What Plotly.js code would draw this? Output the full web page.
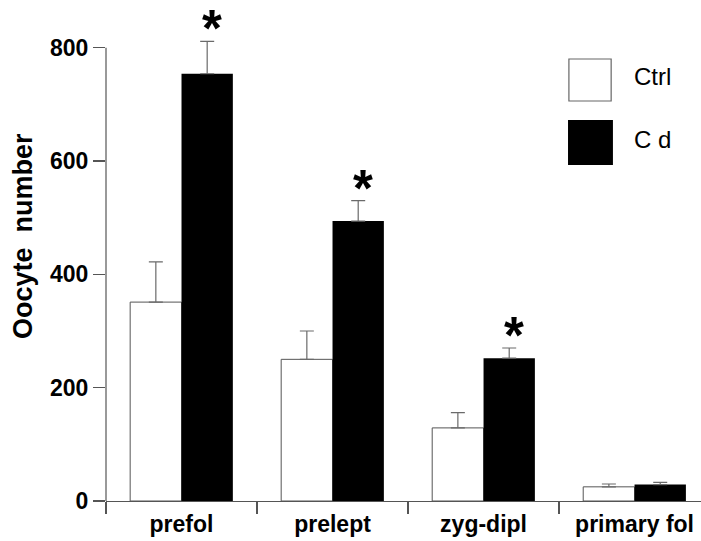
<!DOCTYPE html>
<html>
<head>
<meta charset="utf-8">
<script src="https://cdn.plot.ly/plotly-3.0.1.min.js"></script>
<style>html,body{margin:0;padding:0;background:#fff;}#chart{width:701px;height:541px;}</style>
</head>
<body>
<div id="chart"></div>
<script>
var categories = ["prefol", "prelept", "zyg-dipl", "primary fol"];
var seriesNames = ["Ctrl", "C d"];
var ctrlValues = [351, 250, 129, 25];
var ctrlErrors = [71, 50, 27, 5];
var cdValues = [754, 494, 252, 29];
var cdErrors = [57, 36, 18, 4];
var significant = [true, true, true, false];
var yTickValues = [0, 200, 400, 600, 800];
var yTickLabels = ["0", "200", "400", "600", "800"];
var yAxisTitle = "Oocyte\u00A0\u00A0number";

var FONT = "Liberation Sans, Arial, Helvetica, sans-serif";
var zeros = ctrlValues.map(function(){ return 0; });
var bargap = 0.32;
var halfBar = (1 - bargap) / 4;
var yTop = yTickValues[yTickValues.length - 1];

var traces = [
  {
    type: "bar", name: seriesNames[0], x: categories, y: ctrlValues,
    marker: {color: "#ffffff", line: {color: "#555555", width: 1}},
    error_y: {type: "data", symmetric: false, array: ctrlErrors, arrayminus: zeros,
              width: 7, thickness: 1.2, color: "#6a6a6a"},
    cliponaxis: false, hoverinfo: "none"
  },
  {
    type: "bar", name: seriesNames[1], x: categories, y: cdValues,
    marker: {color: "#000000", line: {color: "#000000", width: 0}},
    error_y: {type: "data", symmetric: false, array: cdErrors, arrayminus: zeros,
              width: 7, thickness: 1.2, color: "#6a6a6a"},
    cliponaxis: false, hoverinfo: "none"
  }
];

var annotations = [];
categories.forEach(function(c, i){
  if (significant[i]) {
    annotations.push({
      xref: "x", yref: "y", x: i + halfBar, y: cdValues[i] + cdErrors[i],
      text: "<b>*</b>", showarrow: false, xanchor: "center", yanchor: "middle",
      height: 40, valign: "middle",
      xshift: 5, yshift: 13,
      font: {family: FONT, size: 51, color: "#000"}
    });
  }
});

// y-axis title as a rotated annotation
annotations.push({xref: "paper", yref: "paper", x: -0.1395, y: 0.5375, text: "<b>" + yAxisTitle + "</b>",
  textangle: -90, showarrow: false, xanchor: "center", yanchor: "middle",
  font: {family: FONT, size: 27, color: "#000"}});

// manual legend with large swatches
var shapes = [
  {type: "line", xref: "paper", yref: "y", x0: 0, x1: 0, y0: 0, y1: yTop,
   line: {color: "#555555", width: 1.2}},
  {type: "rect", xref: "paper", yref: "paper", x0: 0.778, x1: 0.849, y0: 0.8966, y1: 0.8114,
   line: {color: "#666666", width: 1.2}, fillcolor: "#ffffff"},
  {type: "rect", xref: "paper", yref: "paper", x0: 0.7765, x1: 0.852, y0: 0.7728, y1: 0.6815,
   line: {color: "#000000", width: 0}, fillcolor: "#000000"}
];
annotations.push({xref: "paper", yref: "paper", x: 0.884, y: 0.862, text: seriesNames[0],
  showarrow: false, xanchor: "left", yanchor: "middle", font: {family: FONT, size: 24, color: "#000"}});
annotations.push({xref: "paper", yref: "paper", x: 0.884, y: 0.7323, text: seriesNames[1],
  showarrow: false, xanchor: "left", yanchor: "middle", font: {family: FONT, size: 24, color: "#000"}});

var layout = {
  width: 701, height: 541,
  margin: {l: 106, r: 0, t: 8, b: 40},
  paper_bgcolor: "#ffffff", plot_bgcolor: "#ffffff",
  showlegend: false,
  barmode: "group", bargap: bargap, bargroupgap: 0,
  font: {family: FONT, color: "#000"},
  xaxis: {
    type: "category", range: [-0.5, 3.44],
    showline: true, linecolor: "#555555", linewidth: 1.2,
    ticks: "outside", tickson: "boundaries", ticklen: 12, tickwidth: 1.2, tickcolor: "#555555",
    ticklabelstandoff: 2,
    showgrid: false, zeroline: false,
    tickfont: {family: FONT, size: 23, color: "#000", weight: "bold"}
  },
  yaxis: {
    range: [0, 870],
    tickvals: yTickValues, ticktext: yTickLabels,
    showline: false,
    ticks: "outside", ticklen: 12, tickwidth: 1.2, tickcolor: "#555555",
    showgrid: false, zeroline: false,
    tickfont: {family: FONT, size: 23, color: "#000", weight: "bold"}
  },
  shapes: shapes,
  annotations: annotations
};

Plotly.newPlot("chart", traces, layout, {displayModeBar: false, staticPlot: true});
</script>
</body>
</html>
